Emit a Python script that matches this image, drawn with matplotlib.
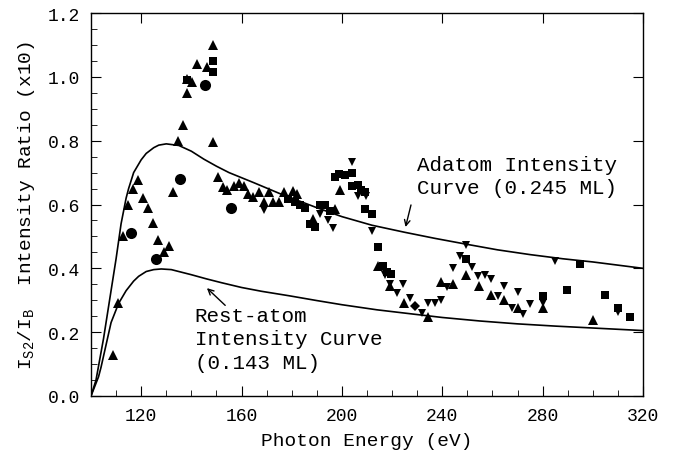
import matplotlib.pyplot as plt
from matplotlib.ticker import MultipleLocator

plt.rcParams['font.family'] = 'Liberation Mono'
plt.rcParams['mathtext.fontset'] = 'custom'
plt.rcParams['mathtext.rm'] = 'Liberation Mono'
plt.rcParams['mathtext.it'] = 'Liberation Mono'

# model curves
adatom_e = [100, 102, 105, 108, 110, 112, 114, 115, 117, 120, 122, 125, 127, 130,
            135, 140, 145, 150, 155, 160, 165, 175, 185, 190, 200, 212, 225, 237,
            250, 262, 275, 288, 300, 310, 320]
adatom_y = [0.0, 0.05, 0.18, 0.33, 0.43, 0.54, 0.62, 0.65, 0.70, 0.74, 0.76, 0.778,
            0.786, 0.79, 0.785, 0.767, 0.742, 0.72, 0.70, 0.684, 0.668, 0.635, 0.605,
            0.59, 0.562, 0.535, 0.513, 0.494, 0.475, 0.458, 0.443, 0.43, 0.42,
            0.41, 0.40]
rest_e = [100, 103, 104, 106, 108, 110, 111, 114, 117, 119, 122, 125, 128, 132,
          135, 140, 146, 152, 160, 168, 179, 190, 200, 214, 228, 240, 255, 270,
          285, 300, 320]
rest_y = [0.0, 0.06, 0.09, 0.16, 0.23, 0.27, 0.29, 0.33, 0.36, 0.375, 0.39, 0.396,
          0.398, 0.396, 0.39, 0.38, 0.367, 0.355, 0.34, 0.328, 0.314, 0.299, 0.286,
          0.27, 0.257, 0.246, 0.235, 0.226, 0.219, 0.213, 0.205]

# measured points
tri_up_e = [148.5, 142.3, 146.1, 138.4, 140.1, 138.4, 136.5, 134.5, 148.6, 118.6,
            116.6, 120.6, 114.6, 122.8, 124.8, 132.5, 150.7, 152.7, 154.3, 157,
            159, 161, 162.7, 164.7, 167, 169, 171, 172.6, 175, 177, 112.9, 126.8,
            131.1, 129.1, 110.9, 108.9, 180.6, 182, 197.2, 188.6, 199.2, 214.5,
            219.1, 224.7, 234.4, 239.4, 244.3, 249.4, 254.6, 259.6, 264.7, 270,
            280, 299.9]
tri_up_y = [1.10, 1.04, 1.03, 0.994, 0.983, 0.95, 0.85, 0.80, 0.796, 0.678,
            0.649, 0.62, 0.60, 0.589, 0.542, 0.64, 0.686, 0.654, 0.647, 0.657,
            0.668, 0.659, 0.633, 0.623, 0.64, 0.607, 0.638, 0.609, 0.609, 0.638,
            0.50, 0.49, 0.47, 0.45, 0.29, 0.13, 0.643, 0.633, 0.586, 0.555, 0.644,
            0.407, 0.345, 0.29, 0.247, 0.358, 0.351, 0.379, 0.346, 0.317, 0.30,
            0.277, 0.275, 0.239]

tri_dn_e = [169, 191.2, 194.5, 196.5, 203.9, 206.5, 209.6, 211.8, 217.1, 219.1,
            224.4, 221.8, 227.1, 234.4, 237, 239.3, 232.1, 241.7, 244.3, 247, 252,
            249.4, 254.3, 257, 259.6, 262.3, 264.7, 270, 267.6, 272.2, 274.9, 280,
            284.9, 310.1]
tri_dn_y = [0.583, 0.571, 0.552, 0.527, 0.734, 0.626, 0.628, 0.518, 0.379, 0.351,
            0.351, 0.323, 0.307, 0.29, 0.29, 0.30, 0.259, 0.34, 0.40, 0.44, 0.403,
            0.473, 0.377, 0.379, 0.367, 0.314, 0.346, 0.327, 0.275, 0.257, 0.288,
            0.29, 0.424, 0.264]

sq_e = [148.5, 148.5, 138.4, 178.6, 181.3, 183.3, 185.3, 191.2, 193.2, 195.2,
        187.3, 189.2, 197.2, 199, 201.2, 203.9, 203.9, 206.5, 207.8, 209.2, 209.2,
        211.8, 214.5, 216.5, 217.8, 219.5, 249.4, 280, 289.8, 294.8, 304.9, 310.1,
        315]
sq_y = [1.049, 1.015, 0.99, 0.616, 0.607, 0.597, 0.588, 0.599, 0.597, 0.581,
        0.539, 0.529, 0.685, 0.696, 0.693, 0.699, 0.659, 0.662, 0.644, 0.638, 0.586,
        0.571, 0.466, 0.408, 0.388, 0.382, 0.429, 0.312, 0.333, 0.413, 0.317, 0.277,
        0.248]

circ_e = [145.4, 135.5, 155.8, 115.9, 125.9]
circ_y = [0.973, 0.68, 0.588, 0.51, 0.43]

dia_e = [229.3]
dia_y = [0.283]

fig = plt.figure(figsize=(6.73, 4.52), dpi=100)
ax = fig.add_axes([0.1352, 0.1217, 0.8202, 0.8473])

ax.plot(adatom_e, adatom_y, color='black', lw=1.2, solid_joinstyle='round')
ax.plot(rest_e, rest_y, color='black', lw=1.2, solid_joinstyle='round')

ax.plot(tri_up_e, tri_up_y, '^', color='black', ms=6.5, mew=0)
ax.plot(tri_dn_e, tri_dn_y, 'v', color='black', ms=6, mew=0)
ax.plot(sq_e, sq_y, 's', color='black', ms=5.5, mew=0)
ax.plot(circ_e, circ_y, 'o', color='black', ms=8, mew=0)
ax.plot(dia_e, dia_y, 'D', color='black', ms=5, mew=0)

ax.set_xlim(100, 320)
ax.set_ylim(0, 1.2)
ax.set_xticks([120, 160, 200, 240, 280, 320])
ax.xaxis.set_minor_locator(MultipleLocator(10))
ax.yaxis.set_major_locator(MultipleLocator(0.2))
ax.yaxis.set_minor_locator(MultipleLocator(0.05))
ax.set_yticklabels(['%.1f' % v for v in ax.get_yticks()])

ax.tick_params(which='both', direction='in', labelsize=13)
ax.tick_params(which='major', length=7, top=True, right=True, pad=8)
ax.tick_params(which='minor', length=4)

for s in ax.spines.values():
    s.set_linewidth(1.0)

ax.set_xlabel('Photon Energy (eV)', fontsize=14, labelpad=6)
ax.set_ylabel(r'$\mathrm{I_{S2}/I_B}$  Intensity Ratio (x10)', fontsize=14, labelpad=8)

ax.annotate('', xy=(225.1, 0.521), xytext=(227.8, 0.607),
            arrowprops=dict(arrowstyle='->', color='black', lw=1))
ax.text(229.9, 0.69, 'Adatom Intensity\nCurve (0.245 ML)', fontsize=15,
        va='center', ha='left', linespacing=1.3)

ax.annotate('', xy=(145.4, 0.344), xytext=(154.3, 0.278),
            arrowprops=dict(arrowstyle='->', color='black', lw=1))
ax.text(141.4, 0.18, 'Rest-atom\nIntensity Curve\n(0.143 ML)', fontsize=15,
        va='center', ha='left', linespacing=1.3)

fig.savefig('out.png', dpi=100)
